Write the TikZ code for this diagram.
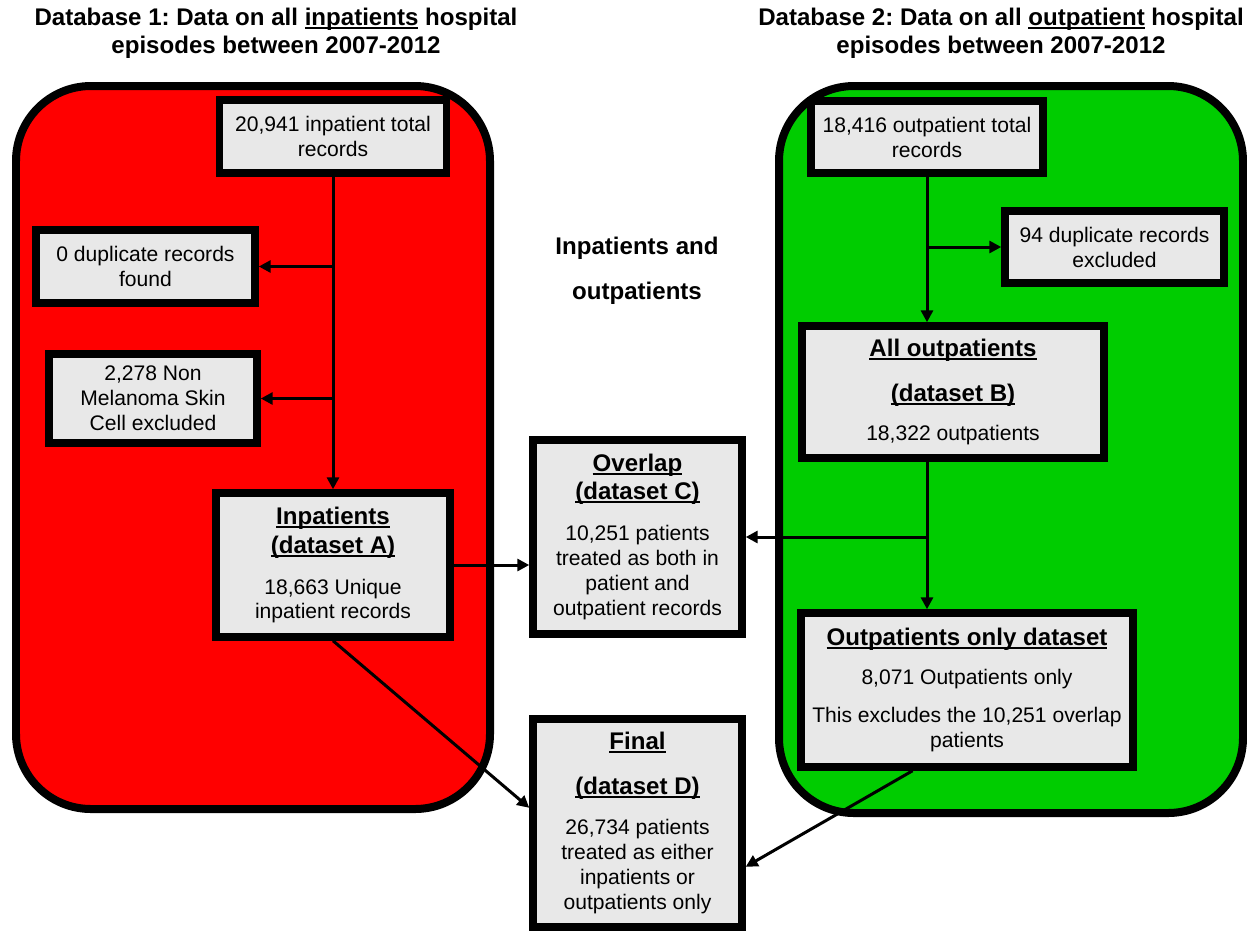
\documentclass[tikz,border=0pt]{standalone}
\usepackage{fontspec}
\setmainfont{Liberation Sans}
\usetikzlibrary{arrows.meta}

\definecolor{inred}{HTML}{FF0000}
\definecolor{outgreen}{HTML}{00CC00}
\definecolor{boxgray}{HTML}{E8E8E8}

\frenchspacing
\newcommand{\uln}[1]{\setbox0\hbox{#1}\rlap{\rule[-2pt]{\wd0}{1pt}}\box0\relax}
\newcommand{\hd}[1]{{\fontsize{13.7}{14.2}\selectfont\bfseries\uln{#1}}}

\begin{document}
\begin{tikzpicture}[
    x=0.02cm, y=-0.02cm,
    % Define styles
    box/.style={rectangle, draw=black, line width=0.15cm, fill=boxgray, inner sep=0pt, align=center, font=\fontsize{12}{14.2}\selectfont},
    dbframe/.style={draw=black, line width=0.16cm, rounded corners=1.5cm},
    heading/.style={align=center, font=\fontsize{13.7}{15.9}\selectfont\bfseries},
    arrow/.style={-{Triangle[length=0.24cm, width=0.24cm]}, line width=0.06cm},
    ]

    \useasboundingbox (0,0) rectangle (1247,931);

    % Database frames
    \draw[dbframe, fill=inred] (16,86) rectangle (490,809);
    \draw[dbframe, fill=outgreen] (779,86) rectangle (1243,813);

    % Headings
    \node[heading] (db1) at (276,33) {Database 1: Data on all \uln{inpatients} hospital\\episodes between 2007-2012};
    \node[heading] (db2) at (1001,33) {Database 2: Data on all \uln{outpatient} hospital\\episodes between 2007-2012};
    \node[heading, font=\fontsize{13.7}{25.6}\selectfont\bfseries] (both) at (637,271) {Inpatients and\\outpatients};

    % Inpatient side
    \node[box, minimum width=4.54cm, minimum height=1.46cm] (in_total) at (333,136.5) {20,941 inpatient total\\records};
    \node[box, minimum width=4.38cm, minimum height=1.46cm] (dup0) at (145.5,266.5) {0 duplicate records\\found};
    \node[box, minimum width=4.16cm, minimum height=1.78cm] (nmsc) at (153,398.5) {2,278 Non\\Melanoma Skin\\Cell excluded};
    \node[box, minimum width=4.68cm, minimum height=2.88cm] (inA) at (333,565) {\hd{Inpatients}\\[2.3pt]\hd{(dataset A)}\\[9.1pt]18,663 Unique\\inpatient records};

    % Outpatient side
    \node[box, minimum width=4.64cm, minimum height=1.44cm] (out_total) at (927,137) {18,416 outpatient total\\records};
    \node[box, minimum width=4.38cm, minimum height=1.44cm] (dup94) at (1114.5,247) {94 duplicate records\\excluded};
    \node[box, minimum width=6.04cm, minimum height=2.64cm] (allB) at (953,392) {\hd{All outpatients}\\[11.4pt]\hd{(dataset B)}\\[8pt]18,322 outpatients};
    \node[box, minimum width=6.64cm, minimum height=3.08cm] (outonly) at (967,690) {\hd{Outpatients only dataset}\\[8pt]8,071 Outpatients only\\[7.4pt]This excludes the 10,251 overlap\\patients};

    % Combined datasets
    \node[box, minimum width=4.18cm, minimum height=3.88cm] (overC) at (637.5,537) {\hd{Overlap}\\[1.7pt]\hd{(dataset C)}\\[9.1pt]10,251 patients\\treated as both in\\patient and\\outpatient records};
    \node[box, minimum width=4.18cm, minimum height=4.16cm] (finalD) at (637.5,823) {\hd{Final}\\[11.4pt]\hd{(dataset D)}\\[8.6pt]26,734 patients\\treated as either\\inpatients or\\outpatients only};

    % Arrows
    \draw[arrow] (in_total.south) -- (inA.north);
    \draw[arrow] (in_total.south |- dup0.east) -- (dup0.east);
    \draw[arrow] (in_total.south |- nmsc.east) -- (nmsc.east);
    \draw[arrow] (out_total.south) -- (out_total.south |- allB.north);
    \draw[arrow] (out_total.south |- dup94.west) -- (dup94.west);
    \draw[arrow] (out_total.south |- allB.south) -- (out_total.south |- outonly.north);
    \draw[arrow] (out_total.south |- overC.east) -- (overC.east);
    \draw[arrow] (inA.east) -- (inA.east -| overC.west);
    \draw[arrow] (inA.south) -- (finalD.172);
    \draw[arrow] (outonly.236) -- (finalD.338);

\end{tikzpicture}
\end{document}
